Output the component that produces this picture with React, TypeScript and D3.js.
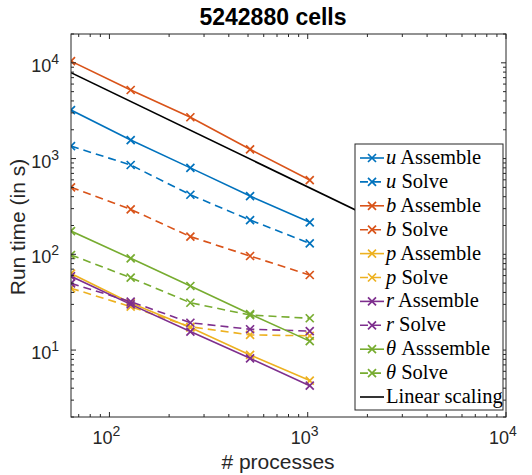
import React from 'react';
import * as d3 from 'd3';

// processes
const procs = [64, 128, 256, 512, 1024];

// run times (s)
const uAssemble = [3210, 1560, 800, 406, 216];
const uSolve = [1350, 857, 419, 228, 130];
const bAssemble = [10400, 5200, 2700, 1250, 597];
const bSolve = [501, 295, 153, 96, 60.8];
const pAssemble = [63, 31, 17.2, 8.9, 4.8];
const pSolve = [44.2, 28.4, 17.5, 14.4, 14.1];
const rAssemble = [59, 30, 15.6, 8.2, 4.25];
const rSolve = [49.8, 32, 19.3, 16.5, 15.8];
const thAssemble = [175, 90.8, 46.7, 23.8, 12.4];
const thSolve = [98.4, 57, 31.2, 23.2, 21.5];

const linearX = [64, 4096];
const linearY = [7900, 123.4];

const xTicks = [100, 1000, 10000];
const yTicks = [10, 100, 1000, 10000];

const blue = '#0072BD';
const orange = '#D95319';
const yellow = '#EDB120';
const purple = '#7E2F8E';
const green = '#77AC30';

const series = [
  { v: 'u', name: 'Assemble', data: uAssemble, color: blue, dash: false },
  { v: 'u', name: 'Solve', data: uSolve, color: blue, dash: true },
  { v: 'b', name: 'Assemble', data: bAssemble, color: orange, dash: false },
  { v: 'b', name: 'Solve', data: bSolve, color: orange, dash: true },
  { v: 'p', name: 'Assemble', data: pAssemble, color: yellow, dash: false },
  { v: 'p', name: 'Solve', data: pSolve, color: yellow, dash: true },
  { v: 'r', name: 'Assemble', data: rAssemble, color: purple, dash: false },
  { v: 'r', name: 'Solve', data: rSolve, color: purple, dash: true },
  { v: 'θ', name: 'Asssemble', data: thAssemble, color: green, dash: false },
  { v: 'θ', name: 'Solve', data: thSolve, color: green, dash: true },
];

const W = 532;
const H = 475;
const L = 71, R = 506, T = 34, B = 417;
const axisColor = '#262626';
const sans = '"Liberation Sans", Arial, sans-serif';
const serif = '"Liberation Serif", "Times New Roman", serif';

const Cross = ({ x, y, color }: { x: number; y: number; color: string }) => {
  const s = 4;
  return (
    <path
      d={`M${x - s},${y - s}L${x + s},${y + s}M${x - s},${y + s}L${x + s},${y - s}`}
      stroke={color}
      strokeWidth={1.7}
      fill="none"
    />
  );
};

export default function App() {
  const x = d3.scaleLog().domain([64, 10000]).range([L, R]);
  const y = d3.scaleLog().domain([2, 20000]).range([B, T]);

  const line = d3
    .line<number>()
    .x((_, i) => x(procs[i]))
    .y((d) => y(d));

  const linLine = d3
    .line<number>()
    .x((_, i) => x(linearX[i]))
    .y((d) => y(d));

  const xMinor = x.ticks().filter((t) => !xTicks.includes(t));
  const yMinor = y.ticks().filter((t) => !yTicks.includes(t));

  const major = 5;
  const minor = 3;

  const legL = 355, legR = 503, legT = 144, legB = 410;
  const row0 = 158, rowH = 23.9;

  return (
    <svg width={W} height={H} style={{ position: 'absolute', left: 0, top: 0 }}>
      <rect width={W} height={H} fill="#fff" />
      <defs>
        <clipPath id="plot">
          <rect x={L} y={T} width={R - L} height={B - T} />
        </clipPath>
      </defs>

      {/* data */}
      <g clipPath="url(#plot)">
        <path d={linLine(linearY) || ''} stroke="#000" strokeWidth={1.6} fill="none" />
        {series.map((s, i) => (
          <g key={i}>
            <path
              d={line(s.data) || ''}
              stroke={s.color}
              strokeWidth={1.6}
              fill="none"
              strokeDasharray={s.dash ? '8,5' : undefined}
            />
            {s.data.map((d, j) => (
              <Cross key={j} x={x(procs[j])} y={y(d)} color={s.color} />
            ))}
          </g>
        ))}
      </g>

      {/* axes box + ticks */}
      <g stroke={axisColor} strokeWidth={1}>
        <rect x={L} y={T} width={R - L} height={B - T} fill="none" />
        {xTicks.concat(xMinor).map((t, i) => {
          const len = xTicks.includes(t) ? major : minor;
          const px = x(t);
          return (
            <g key={'x' + i}>
              <line x1={px} x2={px} y1={B} y2={B - len} />
              <line x1={px} x2={px} y1={T} y2={T + len} />
            </g>
          );
        })}
        {yTicks.concat(yMinor).map((t, i) => {
          const len = yTicks.includes(t) ? major : minor;
          const py = y(t);
          return (
            <g key={'y' + i}>
              <line x1={L} x2={L + len} y1={py} y2={py} />
              <line x1={R} x2={R - len} y1={py} y2={py} />
            </g>
          );
        })}
      </g>

      {/* tick labels */}
      <g fill={axisColor} fontFamily={sans}>
        {xTicks.map((t) => (
          <text key={t} x={x(t) - 3} y={444} textAnchor="middle" fontSize={18}>
            10
            <tspan fontSize={14} dy={-8}>
              {Math.round(Math.log10(t))}
            </tspan>
          </text>
        ))}
        {yTicks.map((t) => (
          <text key={t} x={59} y={y(t) + 9} textAnchor="end" fontSize={18}>
            10
            <tspan fontSize={14} dy={-8}>
              {Math.round(Math.log10(t))}
            </tspan>
          </text>
        ))}
      </g>

      {/* labels */}
      <text x={273} y={25} textAnchor="middle" fontFamily={sans} fontWeight="bold" fontSize={23} fill="#000">
        5242880 cells
      </text>
      <text x={278} y={469} textAnchor="middle" fontFamily={sans} fontSize={21} fill={axisColor}>
        # processes
      </text>
      <text
        transform={`translate(25,227) rotate(-90)`}
        textAnchor="middle"
        fontFamily={sans}
        fontSize={21}
        fill={axisColor}
      >
        Run time (in s)
      </text>

      {/* legend */}
      <g>
        <rect x={legL} y={legT} width={legR - legL} height={legB - legT} fill="#fff" stroke={axisColor} strokeWidth={1} />
        {series.map((s, i) => {
          const cy = row0 + i * rowH;
          return (
            <g key={i}>
              <line
                x1={360}
                x2={384}
                y1={cy}
                y2={cy}
                stroke={s.color}
                strokeWidth={1.6}
                strokeDasharray={s.dash ? '8,5' : undefined}
              />
              <Cross x={372} y={cy} color={s.color} />
              <text x={386} y={cy + 6} fontFamily={serif} fontSize={20.5} fill="#000">
                <tspan fontStyle="italic">{s.v}</tspan> {s.name}
              </text>
            </g>
          );
        })}
        <line x1={360} x2={384} y1={row0 + 10 * rowH} y2={row0 + 10 * rowH} stroke="#000" strokeWidth={1.6} />
        <text x={386} y={row0 + 10 * rowH + 6} fontFamily={serif} fontSize={20.5} fill="#000">
          Linear scaling
        </text>
      </g>
    </svg>
  );
}
